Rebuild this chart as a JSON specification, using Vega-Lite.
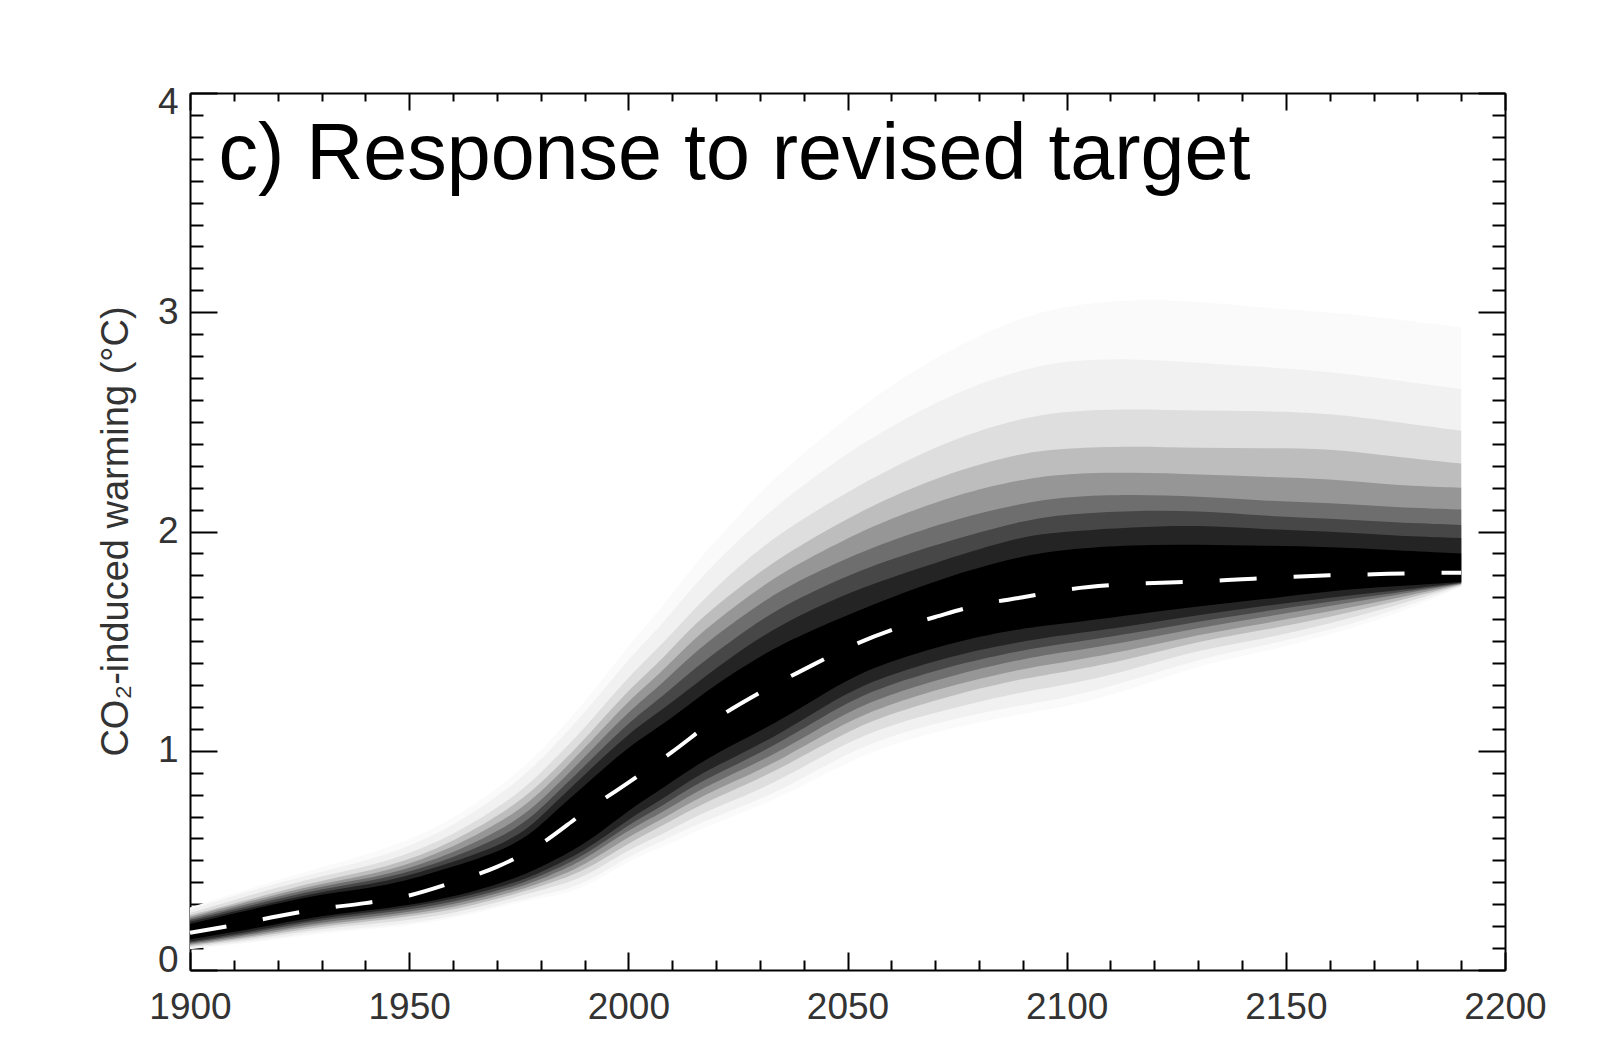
{
  "$schema": "https://vega.github.io/schema/vega-lite/v6.json",
  "width": 1315,
  "height": 877,
  "autosize": {"type": "none"},
  "padding": {"left": 190, "top": 93, "right": 109, "bottom": 91},
  "background": "white",
  "config": {"view": {"stroke": null}, "font": "Liberation Sans"},
  "datasets": {
    "band": [
      {"year":1900,"u2":0.285,"u4":0.275,"u10":0.26,"u20":0.25,"u35":0.243,"u50":0.235,"u65":0.228,"u80":0.22,"u92":0.21,"l92":0.14,"l80":0.13,"l65":0.125,"l50":0.12,"l35":0.115,"l20":0.11,"l10":0.105,"l4":0.10,"l2":0.095},
      {"year":1915,"u2":0.38,"u4":0.37,"u10":0.35,"u20":0.33,"u35":0.32,"u50":0.31,"u65":0.30,"u80":0.29,"u92":0.28,"l92":0.19,"l80":0.18,"l65":0.172,"l50":0.165,"l35":0.157,"l20":0.15,"l10":0.14,"l4":0.13,"l2":0.125},
      {"year":1930,"u2":0.47,"u4":0.45,"u10":0.43,"u20":0.41,"u35":0.397,"u50":0.385,"u65":0.372,"u80":0.36,"u92":0.35,"l92":0.25,"l80":0.24,"l65":0.23,"l50":0.22,"l35":0.21,"l20":0.20,"l10":0.19,"l4":0.18,"l2":0.17},
      {"year":1945,"u2":0.55,"u4":0.52,"u10":0.49,"u20":0.465,"u35":0.447,"u50":0.43,"u65":0.415,"u80":0.40,"u92":0.38,"l92":0.28,"l80":0.27,"l65":0.26,"l50":0.25,"l35":0.24,"l20":0.23,"l10":0.215,"l4":0.20,"l2":0.19},
      {"year":1960,"u2":0.68,"u4":0.65,"u10":0.61,"u20":0.58,"u35":0.555,"u50":0.53,"u65":0.51,"u80":0.49,"u92":0.47,"l92":0.33,"l80":0.32,"l65":0.307,"l50":0.295,"l35":0.282,"l20":0.27,"l10":0.255,"l4":0.24,"l2":0.23},
      {"year":1975,"u2":0.90,"u4":0.86,"u10":0.80,"u20":0.76,"u35":0.72,"u50":0.68,"u65":0.64,"u80":0.60,"u92":0.57,"l92":0.42,"l80":0.40,"l65":0.387,"l50":0.375,"l35":0.362,"l20":0.35,"l10":0.335,"l4":0.32,"l2":0.31},
      {"year":1982,"u2":1.04,"u4":1.00,"u10":0.94,"u20":0.89,"u35":0.85,"u50":0.81,"u65":0.775,"u80":0.74,"u92":0.70,"l92":0.49,"l80":0.465,"l65":0.447,"l50":0.43,"l35":0.412,"l20":0.395,"l10":0.375,"l4":0.35,"l2":0.335},
      {"year":1990,"u2":1.22,"u4":1.17,"u10":1.10,"u20":1.05,"u35":1.01,"u50":0.97,"u65":0.93,"u80":0.89,"u92":0.84,"l92":0.57,"l80":0.54,"l65":0.52,"l50":0.50,"l35":0.475,"l20":0.45,"l10":0.42,"l4":0.39,"l2":0.37},
      {"year":2000,"u2":1.48,"u4":1.42,"u10":1.34,"u20":1.28,"u35":1.23,"u50":1.18,"u65":1.13,"u80":1.08,"u92":1.02,"l92":0.73,"l80":0.69,"l65":0.665,"l50":0.64,"l35":0.61,"l20":0.58,"l10":0.55,"l4":0.52,"l2":0.50},
      {"year":2008,"u2":1.66,"u4":1.58,"u10":1.49,"u20":1.42,"u35":1.365,"u50":1.31,"u65":1.25,"u80":1.19,"u92":1.12,"l92":0.83,"l80":0.78,"l65":0.75,"l50":0.72,"l35":0.69,"l20":0.66,"l10":0.62,"l4":0.59,"l2":0.56},
      {"year":2015,"u2":1.85,"u4":1.76,"u10":1.65,"u20":1.58,"u35":1.515,"u50":1.45,"u65":1.375,"u80":1.30,"u92":1.23,"l92":0.93,"l80":0.88,"l65":0.845,"l50":0.81,"l35":0.775,"l20":0.74,"l10":0.70,"l4":0.66,"l2":0.63},
      {"year":2025,"u2":2.07,"u4":1.96,"u10":1.84,"u20":1.74,"u35":1.67,"u50":1.60,"u65":1.525,"u80":1.45,"u92":1.37,"l92":1.04,"l80":0.98,"l65":0.94,"l50":0.905,"l35":0.867,"l20":0.83,"l10":0.78,"l4":0.74,"l2":0.71},
      {"year":2035,"u2":2.28,"u4":2.14,"u10":2.0,"u20":1.89,"u35":1.815,"u50":1.74,"u65":1.66,"u80":1.58,"u92":1.49,"l92":1.14,"l80":1.08,"l65":1.04,"l50":1.0,"l35":0.96,"l20":0.92,"l10":0.87,"l4":0.82,"l2":0.79},
      {"year":2050,"u2":2.52,"u4":2.36,"u10":2.18,"u20":2.06,"u35":1.97,"u50":1.88,"u65":1.80,"u80":1.72,"u92":1.62,"l92":1.33,"l80":1.27,"l65":1.225,"l50":1.18,"l35":1.135,"l20":1.09,"l10":1.04,"l4":0.99,"l2":0.95},
      {"year":2060,"u2":2.67,"u4":2.48,"u10":2.29,"u20":2.16,"u35":2.06,"u50":1.96,"u65":1.875,"u80":1.79,"u92":1.70,"l92":1.41,"l80":1.35,"l65":1.305,"l50":1.26,"l35":1.215,"l20":1.17,"l10":1.12,"l4":1.07,"l2":1.03},
      {"year":2075,"u2":2.85,"u4":2.64,"u10":2.43,"u20":2.28,"u35":2.17,"u50":2.06,"u65":1.97,"u80":1.89,"u92":1.81,"l92":1.50,"l80":1.44,"l65":1.395,"l50":1.35,"l35":1.305,"l20":1.26,"l10":1.20,"l4":1.15,"l2":1.11},
      {"year":2090,"u2":2.98,"u4":2.74,"u10":2.52,"u20":2.36,"u35":2.24,"u50":2.13,"u65":2.05,"u80":1.98,"u92":1.89,"l92":1.56,"l80":1.50,"l65":1.46,"l50":1.42,"l35":1.375,"l20":1.33,"l10":1.27,"l4":1.21,"l2":1.17},
      {"year":2100,"u2":3.03,"u4":2.78,"u10":2.55,"u20":2.38,"u35":2.265,"u50":2.16,"u65":2.08,"u80":2.0,"u92":1.92,"l92":1.58,"l80":1.53,"l65":1.49,"l50":1.45,"l35":1.405,"l20":1.36,"l10":1.30,"l4":1.24,"l2":1.20},
      {"year":2115,"u2":3.06,"u4":2.79,"u10":2.56,"u20":2.39,"u35":2.27,"u50":2.17,"u65":2.095,"u80":2.02,"u92":1.94,"l92":1.62,"l80":1.57,"l65":1.535,"l50":1.50,"l35":1.46,"l20":1.42,"l10":1.37,"l4":1.32,"l2":1.28},
      {"year":2130,"u2":3.05,"u4":2.77,"u10":2.55,"u20":2.38,"u35":2.26,"u50":2.16,"u65":2.095,"u80":2.03,"u92":1.94,"l92":1.66,"l80":1.62,"l65":1.59,"l50":1.56,"l35":1.53,"l20":1.50,"l10":1.46,"l4":1.42,"l2":1.39},
      {"year":2145,"u2":3.02,"u4":2.75,"u10":2.55,"u20":2.38,"u35":2.25,"u50":2.14,"u65":2.07,"u80":2.01,"u92":1.935,"l92":1.69,"l80":1.66,"l65":1.635,"l50":1.61,"l35":1.58,"l20":1.55,"l10":1.51,"l4":1.48,"l2":1.45},
      {"year":2160,"u2":3.0,"u4":2.73,"u10":2.54,"u20":2.38,"u35":2.24,"u50":2.13,"u65":2.06,"u80":2.0,"u92":1.93,"l92":1.73,"l80":1.70,"l65":1.68,"l50":1.66,"l35":1.635,"l20":1.61,"l10":1.58,"l4":1.55,"l2":1.53},
      {"year":2175,"u2":2.97,"u4":2.69,"u10":2.50,"u20":2.34,"u35":2.21,"u50":2.11,"u65":2.04,"u80":1.98,"u92":1.915,"l92":1.75,"l80":1.73,"l65":1.72,"l50":1.71,"l35":1.695,"l20":1.68,"l10":1.66,"l4":1.64,"l2":1.62},
      {"year":2190,"u2":2.93,"u4":2.65,"u10":2.46,"u20":2.31,"u35":2.20,"u50":2.10,"u65":2.03,"u80":1.97,"u92":1.90,"l92":1.77,"l80":1.767,"l65":1.765,"l50":1.762,"l35":1.76,"l20":1.757,"l10":1.754,"l4":1.75,"l2":1.747}
    ],
    "median": [
      {"year":1900,"warming":0.17},{"year":1910,"warming":0.205},{"year":1920,"warming":0.245},{"year":1930,"warming":0.28},
      {"year":1940,"warming":0.305},{"year":1950,"warming":0.34},{"year":1960,"warming":0.40},{"year":1970,"warming":0.47},
      {"year":1980,"warming":0.575},{"year":1990,"warming":0.72},{"year":2000,"warming":0.855},{"year":2010,"warming":0.995},
      {"year":2020,"warming":1.145},{"year":2030,"warming":1.265},{"year":2040,"warming":1.37},{"year":2050,"warming":1.47},
      {"year":2060,"warming":1.55},{"year":2070,"warming":1.61},{"year":2080,"warming":1.665},{"year":2090,"warming":1.70},
      {"year":2100,"warming":1.735},{"year":2110,"warming":1.755},{"year":2120,"warming":1.765},{"year":2130,"warming":1.772},
      {"year":2140,"warming":1.782},{"year":2150,"warming":1.792},{"year":2160,"warming":1.80},{"year":2170,"warming":1.805},
      {"year":2180,"warming":1.81},{"year":2190,"warming":1.812}
    ],
    "heading": [{"label": "c) Response to revised target"}]
  },
  "resolve": {"axis": {"x": "independent", "y": "independent"}},
  "layer": [
    {"data": {"name": "band"}, "mark": {"type": "area", "interpolate": "basis", "color": "#fafafa"},
     "encoding": {"x": {"field": "year", "type": "quantitative", "scale": {"domain": [1900, 2200], "nice": false, "zero": false}, "axis": null},
                  "y": {"field": "l2", "type": "quantitative", "scale": {"domain": [0, 4], "nice": false, "zero": false}, "axis": null}, "y2": {"field": "u2"}}},
    {"data": {"name": "band"}, "mark": {"type": "area", "interpolate": "basis", "color": "#f1f1f1"},
     "encoding": {"x": {"field": "year", "type": "quantitative", "axis": null},
                  "y": {"field": "l4", "type": "quantitative", "axis": null}, "y2": {"field": "u4"}}},
    {"data": {"name": "band"}, "mark": {"type": "area", "interpolate": "basis", "color": "#dedede"},
     "encoding": {"x": {"field": "year", "type": "quantitative", "axis": null},
                  "y": {"field": "l10", "type": "quantitative", "axis": null}, "y2": {"field": "u10"}}},
    {"data": {"name": "band"}, "mark": {"type": "area", "interpolate": "basis", "color": "#bdbdbd"},
     "encoding": {"x": {"field": "year", "type": "quantitative", "axis": null},
                  "y": {"field": "l20", "type": "quantitative", "axis": null}, "y2": {"field": "u20"}}},
    {"data": {"name": "band"}, "mark": {"type": "area", "interpolate": "basis", "color": "#969696"},
     "encoding": {"x": {"field": "year", "type": "quantitative", "axis": null},
                  "y": {"field": "l35", "type": "quantitative", "axis": null}, "y2": {"field": "u35"}}},
    {"data": {"name": "band"}, "mark": {"type": "area", "interpolate": "basis", "color": "#6e6e6e"},
     "encoding": {"x": {"field": "year", "type": "quantitative", "axis": null},
                  "y": {"field": "l50", "type": "quantitative", "axis": null}, "y2": {"field": "u50"}}},
    {"data": {"name": "band"}, "mark": {"type": "area", "interpolate": "basis", "color": "#474747"},
     "encoding": {"x": {"field": "year", "type": "quantitative", "axis": null},
                  "y": {"field": "l65", "type": "quantitative", "axis": null}, "y2": {"field": "u65"}}},
    {"data": {"name": "band"}, "mark": {"type": "area", "interpolate": "basis", "color": "#242424"},
     "encoding": {"x": {"field": "year", "type": "quantitative", "axis": null},
                  "y": {"field": "l80", "type": "quantitative", "axis": null}, "y2": {"field": "u80"}}},
    {"data": {"name": "band"}, "mark": {"type": "area", "interpolate": "basis", "color": "#000000"},
     "encoding": {"x": {"field": "year", "type": "quantitative", "axis": null},
                  "y": {"field": "l92", "type": "quantitative", "axis": null}, "y2": {"field": "u92"}}},
    {"data": {"name": "median"}, "mark": {"type": "line", "interpolate": "monotone", "color": "#ffffff", "strokeWidth": 4, "strokeDash": [37, 37]},
     "encoding": {"x": {"field": "year", "type": "quantitative", "axis": null},
                  "y": {"field": "warming", "type": "quantitative", "axis": null}}},
    {"data": {"name": "heading"},
     "mark": {"type": "text", "fontSize": 79, "align": "left", "baseline": "alphabetic", "font": "Liberation Sans", "color": "#000000"},
     "encoding": {
       "x": {"datum": 1906.5, "type": "quantitative", "axis": null},
       "y": {"datum": 3.61, "type": "quantitative", "axis": null},
       "text": {"field": "label", "type": "nominal"}}},
    {"data": {"name": "median"}, "mark": {"type": "point", "opacity": 0},
     "encoding": {
       "x": {"field": "year", "type": "quantitative",
             "axis": {"orient": "bottom", "values": [1900, 1950, 2000, 2050, 2100, 2150, 2200], "format": "d", "grid": false, "title": null,
                      "tickSize": -18, "tickWidth": 2, "tickColor": "#000000", "domain": true, "domainColor": "#000000", "domainWidth": 2,
                      "labelFontSize": 37, "labelFont": "Liberation Sans", "labelColor": "#333333", "labelPadding": 37, "labelFlush": false, "labelOverlap": false, "labelBound": false}},
       "y": {"field": "warming", "type": "quantitative",
             "axis": {"orient": "left", "values": [0, 1, 2, 3, 4], "format": "d", "grid": false,
                      "tickSize": -27, "tickWidth": 2, "tickColor": "#000000", "domain": true, "domainColor": "#000000", "domainWidth": 2,
                      "labelFontSize": 37, "labelFont": "Liberation Sans", "labelColor": "#333333", "labelPadding": 39, "labelFlush": true, "labelFlushOffset": 9, "labelOverlap": false,
                      "title": "CO₂-induced warming (°C)", "titleFontSize": 38, "titleFont": "Liberation Sans", "titleFontWeight": "normal", "titleColor": "#333333",
                      "titleAngle": 270, "titleBaseline": "middle", "titleX": -74, "titleY": 438}}}},
    {"data": {"name": "median"}, "mark": {"type": "point", "opacity": 0},
     "encoding": {
       "x": {"field": "year", "type": "quantitative",
             "axis": {"orient": "bottom", "values": [1910, 1920, 1930, 1940, 1960, 1970, 1980, 1990, 2010, 2020, 2030, 2040, 2060, 2070, 2080, 2090, 2110, 2120, 2130, 2140, 2160, 2170, 2180, 2190], "grid": false, "title": null,
                      "tickSize": -10, "tickWidth": 2, "tickColor": "#000000", "domain": false, "labels": false}},
       "y": {"field": "warming", "type": "quantitative",
             "axis": {"orient": "left", "values": [0.1, 0.2, 0.3, 0.4, 0.5, 0.6, 0.7, 0.8, 0.9, 1.1, 1.2, 1.3, 1.4, 1.5, 1.6, 1.7, 1.8, 1.9, 2.1, 2.2, 2.3, 2.4, 2.5, 2.6, 2.7, 2.8, 2.9, 3.1, 3.2, 3.3, 3.4, 3.5, 3.6, 3.7, 3.8, 3.9], "grid": false, "title": null,
                      "tickSize": -13, "tickWidth": 2, "tickColor": "#000000", "domain": false, "labels": false}}}},
    {"data": {"name": "median"}, "mark": {"type": "point", "opacity": 0},
     "encoding": {
       "x": {"field": "year", "type": "quantitative",
             "axis": {"orient": "top", "values": [1900, 1950, 2000, 2050, 2100, 2150, 2200], "grid": false, "title": null,
                      "tickSize": -17, "tickWidth": 2, "tickColor": "#000000", "domain": true, "domainColor": "#000000", "domainWidth": 2, "labels": false}},
       "y": {"field": "warming", "type": "quantitative",
             "axis": {"orient": "right", "values": [0, 1, 2, 3, 4], "grid": false, "title": null,
                      "tickSize": -27, "tickWidth": 2, "tickColor": "#000000", "domain": true, "domainColor": "#000000", "domainWidth": 2, "labels": false}}}},
    {"data": {"name": "median"}, "mark": {"type": "point", "opacity": 0},
     "encoding": {
       "x": {"field": "year", "type": "quantitative",
             "axis": {"orient": "top", "values": [1910, 1920, 1930, 1940, 1960, 1970, 1980, 1990, 2010, 2020, 2030, 2040, 2060, 2070, 2080, 2090, 2110, 2120, 2130, 2140, 2160, 2170, 2180, 2190], "grid": false, "title": null,
                      "tickSize": -8, "tickWidth": 2, "tickColor": "#000000", "domain": false, "labels": false}},
       "y": {"field": "warming", "type": "quantitative",
             "axis": {"orient": "right", "values": [0.1, 0.2, 0.3, 0.4, 0.5, 0.6, 0.7, 0.8, 0.9, 1.1, 1.2, 1.3, 1.4, 1.5, 1.6, 1.7, 1.8, 1.9, 2.1, 2.2, 2.3, 2.4, 2.5, 2.6, 2.7, 2.8, 2.9, 3.1, 3.2, 3.3, 3.4, 3.5, 3.6, 3.7, 3.8, 3.9], "grid": false, "title": null,
                      "tickSize": -13, "tickWidth": 2, "tickColor": "#000000", "domain": false, "labels": false}}}}
  ]
}
